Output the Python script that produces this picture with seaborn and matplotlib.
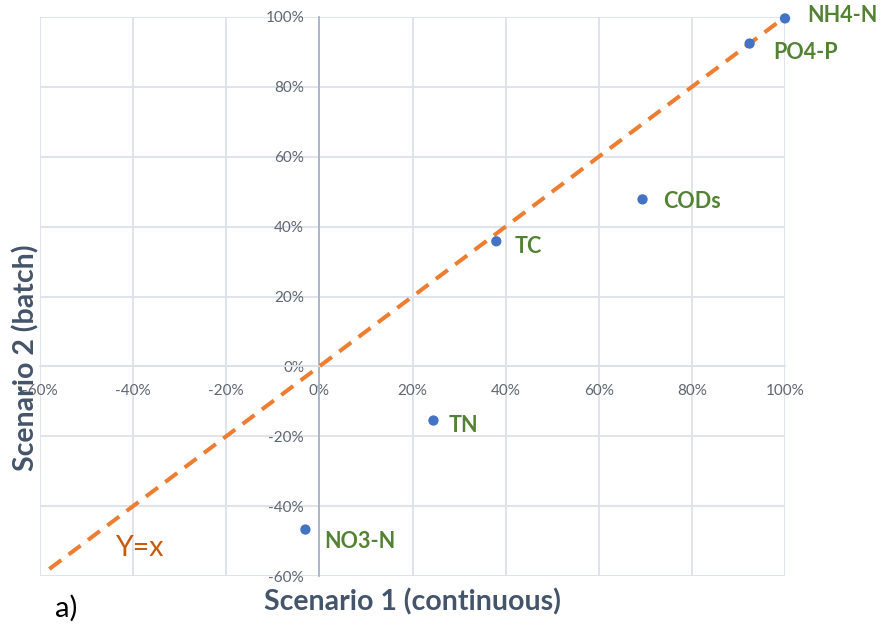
import matplotlib
matplotlib.use("Agg")
import matplotlib.pyplot as plt
from matplotlib.ticker import PercentFormatter, MultipleLocator
import seaborn as sns
import pandas as pd

# Removal efficiencies under the two operating scenarios
parameters = ["NH4-N", "PO4-P", "CODs", "TC", "TN", "NO3-N"]
scenario1_continuous = [1.000, 0.924, 0.694, 0.380, 0.245, -0.030]
scenario2_batch = [0.996, 0.924, 0.478, 0.358, -0.155, -0.467]

# Reference line y = x
ref_x = [-0.58, 1.00]
ref_y = [-0.58, 1.00]

# Label offsets in pixels (right, up) from each point
label_offsets = {
    "NH4-N": (22, 3),
    "PO4-P": (24, -9),
    "CODs": (21, -2),
    "TC": (18, -5),
    "TN": (15, -5),
    "NO3-N": (19, -12),
}

df = pd.DataFrame({"param": parameters,
                   "s1": scenario1_continuous,
                   "s2": scenario2_batch})
ref = pd.DataFrame({"x": ref_x, "y": ref_y})

sns.set_theme(style="white")
plt.rcParams["font.family"] = ["Lato", "DejaVu Sans"]
plt.rcParams["axes.unicode_minus"] = False

fig = plt.figure(figsize=(8.81, 6.25), dpi=100)
ax = fig.add_axes([40 / 881, 49 / 625, 745 / 881, 559 / 625])

grid_color = "#DCE1EA"
tick_color = "#5F6670"
title_color = "#44546A"

sns.lineplot(data=ref, x="x", y="y", ax=ax, color="#ED7D31", lw=2.9,
             dashes=False, zorder=3)
ax.lines[-1].set_dashes((3.7, 2.3))
ax.lines[-1].set_solid_capstyle("butt")

sns.scatterplot(data=df, x="s1", y="s2", ax=ax, color="#4472C4", s=55,
                edgecolor="none", zorder=4, clip_on=False)

for name, x, y in zip(parameters, scenario1_continuous, scenario2_batch):
    dx, dy = label_offsets[name]
    ax.annotate(name, (x, y), xytext=(dx, dy), textcoords="offset pixels",
                ha="left", va="center", fontsize=15.5, fontweight="bold",
                color="#548235", annotation_clip=False, zorder=5)

ax.set_xlim(-0.6, 1.0)
ax.set_ylim(-0.6, 1.0)
ax.xaxis.set_major_locator(MultipleLocator(0.2))
ax.yaxis.set_major_locator(MultipleLocator(0.2))
ax.xaxis.set_major_formatter(PercentFormatter(1.0, decimals=0))
ax.yaxis.set_major_formatter(PercentFormatter(1.0, decimals=0))

ax.grid(True, color=grid_color, lw=1.3, zorder=0)
ax.set_axisbelow(True)

for side in ["top", "right"]:
    ax.spines[side].set_visible(False)
ax.spines["left"].set_position(("data", 0))
ax.spines["bottom"].set_position(("data", 0))
ax.spines["left"].set_color("#A7B3C8")
ax.spines["left"].set_linewidth(1.3)
ax.spines["bottom"].set_color(grid_color)
ax.spines["bottom"].set_linewidth(1.3)

ax.tick_params(axis="x", length=0, pad=13, labelsize=11, labelcolor=tick_color)
ax.tick_params(axis="y", length=0, pad=11, labelsize=11, labelcolor=tick_color)

ax.set_xlabel("")
ax.set_ylabel("")
fig.text(412 / 881, 1 - 602 / 625, "Scenario 1 (continuous)", ha="center",
         va="center", fontsize=20.5, fontweight="bold", color=title_color)
fig.text(26 / 881, 1 - 358 / 625, "Scenario 2 (batch)", ha="center",
         va="center", rotation=90, fontsize=20.5, fontweight="bold",
         color=title_color, zorder=0)

ax.text(-0.436, -0.52, "Y=x", ha="left", va="center", fontsize=20.5,
        color="#C55A11")
fig.text(55 / 881, 1 - 608 / 625, "a)", ha="left", va="center",
         fontsize=21, color="black")

fig.savefig("out.png", dpi=100)
